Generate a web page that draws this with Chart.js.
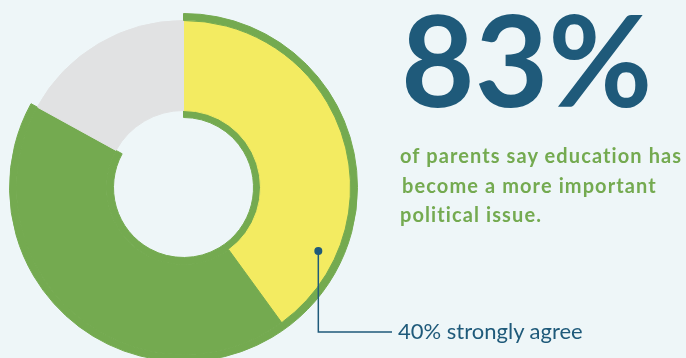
<!DOCTYPE html>
<html>
<head>
<meta charset="utf-8">
<script src="https://cdn.jsdelivr.net/npm/chart.js@4.4.1/dist/chart.umd.min.js"></script>
<style>
  html, body { margin: 0; padding: 0; background: #eef6f8; overflow: hidden; width: 686px; height: 358px; }
  #wrap { position: relative; width: 686px; height: 358px; }
  #pollChart, #labels { position: absolute; left: 0; top: 0; }
</style>
</head>
<body>
<div id="wrap">
  <canvas id="pollChart" width="686" height="362"></canvas>
  <svg id="labels" width="686" height="358">
    <text x="401" y="107" font-family="Lato" font-weight="700" font-size="127" fill="#1f5a7a">83%</text>
    <text font-family="Lato" font-weight="700" font-size="20" letter-spacing="1.1" fill="#74aa50">
      <tspan x="400" y="163">of parents say education has</tspan>
      <tspan x="402" y="193">become a more important</tspan>
      <tspan x="400" y="222">political issue.</tspan>
    </text>
    <text x="398" y="339" font-family="Lato" font-weight="400" font-size="22" fill="#1f5a7a">40% strongly agree</text>
  </svg>
</div>
<script>
  // poll shares, clockwise from the top
  const segments = ["Strongly agree", "Somewhat agree", "Other"];
  const shares = [40, 43, 17];
  const agreeTotal = shares[0] + shares[1]; // 83
  const rimShares = [agreeTotal, 0, shares[2]];

  const yellow = "#f3eb61";
  const green = "#74aa50";
  const grey = "#e1e2e3";
  const navy = "#1f5a7a";
  const clear = "rgba(0,0,0,0)";

  // dot + elbow line pointing at the "strongly agree" slice
  const leaderPlugin = {
    id: "leader",
    afterDatasetsDraw(chart) {
      const arc = chart.getDatasetMeta(1).data[0];
      const p = arc.getProps(["x", "y", "startAngle", "endAngle", "innerRadius", "outerRadius"], true);
      const a = p.startAngle + 0.8 * (p.endAngle - p.startAngle);
      const r = p.innerRadius + 0.8 * (p.outerRadius - p.innerRadius);
      const px = p.x + Math.cos(a) * r;
      const py = p.y + Math.sin(a) * r;
      const c = chart.ctx;
      c.save();
      c.strokeStyle = navy;
      c.lineWidth = 1.5;
      c.beginPath();
      c.moveTo(px, py);
      c.lineTo(px, 332);
      c.lineTo(392, 332);
      c.stroke();
      c.fillStyle = navy;
      c.beginPath();
      c.arc(px, py, 4, 0, Math.PI * 2);
      c.fill();
      c.restore();
    }
  };

  const ctx = document.getElementById("pollChart").getContext("2d");
  const pollChart = new Chart(ctx, {
    type: "doughnut",
    data: {
      labels: segments,
      datasets: [
        { // thin outer green rim around the agree part
          data: rimShares,
          backgroundColor: [green, green, clear],
          borderColor: [green, green, clear],
          borderWidth: 1,
          weight: 7,
        },
        {
          data: shares,
          backgroundColor: [yellow, green, grey],
          borderColor: [yellow, green, grey],
          borderWidth: 1,
          weight: 90,
        },
        { // thin inner green rim
          data: rimShares,
          backgroundColor: [green, green, clear],
          borderColor: [green, green, clear],
          borderWidth: 1,
          weight: 7,
        },
      ],
    },
    options: {
      responsive: false,
      maintainAspectRatio: false,
      animation: false,
      cutout: "40.23%",
      events: [],
      layout: { padding: { left: 9, top: 13, right: 328, bottom: 0 } },
      plugins: {
        legend: { display: false },
        tooltip: { enabled: false },
      },
    },
    plugins: [leaderPlugin],
  });
</script>
</body>
</html>
